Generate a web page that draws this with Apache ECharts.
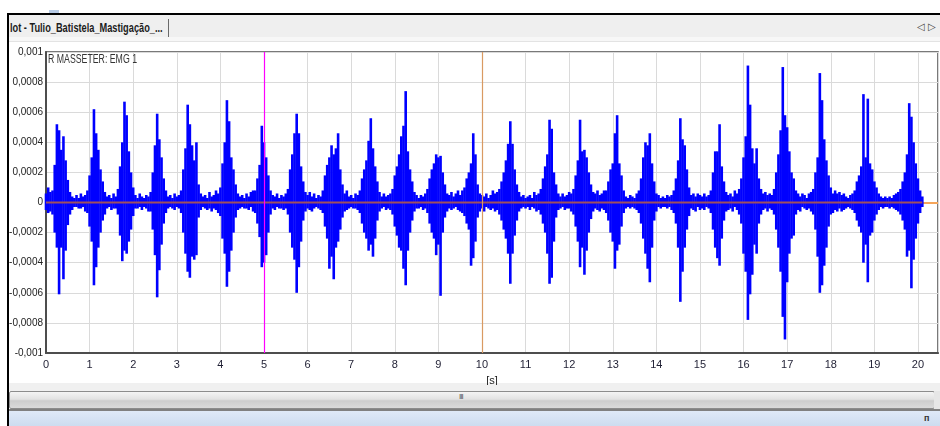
<!DOCTYPE html>
<html>
<head>
<meta charset="utf-8">
<script src="https://cdn.jsdelivr.net/npm/echarts@6/dist/echarts.min.js"></script>
<style>
html,body{margin:0;padding:0;width:940px;height:426px;overflow:hidden;background:#fff;font-family:'Liberation Sans','Noto Sans',sans-serif;}
.abs{position:absolute;}
</style>
</head>
<body>
<div class="abs" style="left:49px;top:10px;width:10px;height:4px;background:#b7cbe6"></div>
<div class="abs" style="left:7px;top:13px;width:933px;height:2px;background:#000"></div>
<div class="abs" style="left:7px;top:13px;width:2px;height:413px;background:#000"></div>
<div class="abs" style="left:9px;top:15px;width:931px;height:22px;background:#efefef"></div>
<div class="abs" id="tab" style="left:10px;top:21px;font-size:12px;font-weight:bold;color:#1c1c1c;white-space:nowrap;transform-origin:0 0">lot - Tulio_Batistela_Mastigação_...</div>
<div class="abs" style="left:168px;top:19px;width:1px;height:18px;background:#6a6a6a"></div>
<div class="abs" style="left:917px;top:21px;font-size:10px;color:#444;white-space:nowrap">◁ ▷</div>
<div class="abs" style="left:9px;top:37px;width:931px;height:4px;background:#f7f7f7"></div>
<div class="abs" style="left:9px;top:41px;width:931px;height:1px;background:#e3e3e3"></div>
<div class="abs" style="left:9px;top:383px;width:931px;height:8px;background:#f0f0f0"></div>
<div class="abs" style="left:9px;top:391px;width:924px;height:16px;border:1px solid #8c8c8c;border-radius:2px;background:linear-gradient(#f4f4f4,#e2e2e2 45%,#cdcdcd 55%,#dadada)"></div>
<div class="abs" style="left:934px;top:391px;width:6px;height:18px;background:#e6e6e6"></div>
<div class="abs" style="left:459px;top:392px;font-size:8px;color:#555;letter-spacing:-1px">III</div>
<div class="abs" style="left:9px;top:409px;width:931px;height:2px;background:#808080"></div>
<div class="abs" style="left:9px;top:411px;width:931px;height:15px;background:linear-gradient(#dfe9f7,#cddcf0)"></div>
<div class="abs" style="left:924px;top:413px;font-size:9px;font-weight:bold;color:#333">п</div>
<div class="abs" id="chart" style="left:0px;top:38px;width:940px;height:347px"></div>
<script>
// ---- data (EMG envelope, units of 1e-4 V) ----
const channelName = 'R MASSETER: EMG 1';
const sampleStep = 0.05;      // seconds between envelope samples
const unit = 1e-4;            // volts per stored unit
const upperEnv = [
0.6,1.0,0.7,0.8,2.5,5.2,4.8,3.5,4.4,2.8,
1.5,0.7,0.4,0.3,0.5,0.3,0.6,0.4,0.5,0.8,
1.8,3.0,6.2,4.6,3.5,2.2,1.4,0.7,0.4,0.5,
0.3,0.6,0.4,0.9,2.4,4.0,6.7,5.8,3.4,2.0,
1.0,0.5,0.3,0.6,0.4,0.3,0.5,0.4,0.7,2.0,
3.8,5.9,4.2,3.0,1.6,0.8,0.4,0.5,0.3,0.6,
0.4,0.5,0.8,2.2,3.6,6.5,5.2,3.8,2.8,4.0,
1.2,0.6,0.4,0.5,0.3,0.7,0.4,0.5,0.8,0.6,
1.0,2.6,4.0,6.8,5.4,3.0,2.2,1.2,0.6,0.4,
0.5,0.3,0.6,0.4,0.7,0.8,0.8,1.6,2.5,5.1,
4.0,3.0,1.8,0.8,0.5,0.4,0.6,0.3,0.5,0.4,
0.6,0.9,2.2,3.2,4.6,5.9,4.6,2.4,1.4,0.7,
0.5,0.7,0.4,0.6,0.3,0.5,0.4,0.8,1.8,2.5,
3.0,3.8,3.2,3.6,4.6,2.2,1.2,0.6,0.8,0.4,
0.5,0.3,0.6,0.5,0.8,1.6,2.2,2.8,4.1,5.6,
3.6,2.4,1.4,0.7,0.4,0.6,0.4,0.5,0.6,0.9,
1.8,2.4,3.2,4.4,5.1,7.4,3.4,2.2,1.4,0.7,
0.5,0.3,0.5,0.4,0.6,0.9,1.6,2.2,2.6,3.2,
3.0,3.1,2.0,1.2,0.6,0.5,0.7,0.4,0.6,0.8,
0.5,0.8,1.0,1.6,2.0,2.6,4.6,3.2,1.2,0.6,
0.5,0.4,0.6,0.3,0.5,0.8,0.6,0.7,0.9,1.4,
2.0,2.8,3.9,5.4,3.9,2.2,1.2,0.7,0.4,0.5,
0.3,0.4,0.5,0.3,0.7,0.5,0.6,0.9,1.6,2.4,
3.2,5.5,4.9,2.0,1.2,0.6,0.4,0.6,0.4,0.5,
0.7,0.6,0.9,1.8,2.8,5.5,3.4,3.5,3.0,2.0,
1.2,0.7,0.6,0.8,0.5,0.6,0.8,0.8,1.4,2.2,
2.6,4.6,5.8,2.6,1.8,0.8,0.4,0.3,0.5,0.4,
0.3,0.6,0.8,1.6,3.0,4.0,3.8,4.6,2.6,1.4,
0.6,0.5,0.3,0.4,0.3,0.5,0.4,0.5,0.8,1.6,
2.8,5.6,4.2,3.8,2.2,1.0,0.5,0.6,0.4,0.6,
0.5,0.4,0.6,0.4,0.5,0.8,2.0,3.4,3.4,5.2,
2.4,1.4,0.7,0.5,0.6,0.4,0.8,0.6,0.9,1.6,
3.0,4.4,9.1,6.5,3.6,2.6,3.6,1.6,0.9,0.6,
0.7,0.5,0.6,0.5,0.9,2.0,3.2,4.8,9.0,5.8,
5.0,3.4,2.0,1.6,0.8,0.6,0.4,0.6,0.5,0.3,
0.6,0.7,0.9,2.0,3.0,8.6,6.8,4.2,2.8,1.8,
1.0,0.6,0.8,0.6,0.7,0.5,0.6,0.4,0.3,0.5,
0.6,0.8,1.4,1.8,2.4,7.2,3.0,6.9,2.6,2.2,
1.4,1.0,0.6,0.4,0.3,0.4,0.3,0.4,0.3,0.5,
0.6,0.7,0.9,1.4,2.0,3.2,6.6,5.7,4.0,2.6,
1.6,0.8,0.4
];
const lowerEnv = [
-0.5,-0.7,-0.6,-0.8,-2.0,-3.0,-6.1,-3.0,-5.1,-3.2,
-1.5,-0.8,-0.5,-0.3,-0.3,-0.4,-0.4,-0.3,-0.6,-0.7,
-1.6,-2.6,-5.5,-4.3,-3.0,-2.0,-1.2,-0.8,-0.4,-0.3,
-0.5,-0.4,-0.4,-0.8,-2.2,-3.9,-3.2,-3.4,-2.6,-1.8,
-0.9,-0.4,-0.4,-0.3,-0.5,-0.3,-0.4,-0.6,-0.6,-1.8,
-3.5,-6.3,-4.5,-2.8,-1.4,-0.7,-0.4,-0.3,-0.4,-0.5,
-0.3,-0.4,-0.7,-2.0,-3.4,-4.6,-5.0,-3.6,-3.8,-3.5,
-1.0,-0.5,-0.3,-0.4,-0.5,-0.4,-0.6,-0.4,-0.5,-0.7,
-0.9,-2.4,-3.4,-5.6,-4.6,-3.2,-2.0,-1.0,-0.5,-0.4,
-0.3,-0.4,-0.4,-0.5,-0.3,-0.6,-0.7,-1.4,-2.3,-4.3,
-4.0,-3.5,-2.0,-0.8,-0.4,-0.5,-0.3,-0.4,-0.4,-0.5,
-0.4,-0.8,-2.0,-3.0,-3.8,-6.0,-4.3,-2.6,-1.2,-0.6,
-0.4,-0.5,-0.6,-0.4,-0.3,-0.4,-0.5,-0.7,-1.6,-2.4,
-4.4,-3.6,-5.1,-3.0,-2.6,-1.8,-1.0,-0.6,-0.5,-0.4,
-0.3,-0.4,-0.4,-0.5,-0.7,-1.4,-2.0,-2.4,-3.2,-2.8,
-3.6,-2.4,-1.2,-0.6,-0.4,-0.3,-0.5,-0.4,-0.5,-0.8,
-1.6,-2.2,-3.0,-3.2,-4.4,-5.5,-3.2,-2.0,-1.2,-0.6,
-0.4,-0.4,-0.3,-0.5,-0.4,-0.7,-1.4,-2.0,-2.4,-3.5,
-2.8,-6.2,-2.0,-1.0,-0.6,-0.4,-0.5,-0.4,-0.3,-0.5,
-0.6,-0.7,-0.9,-1.4,-1.8,-4.2,-3.7,-2.6,-1.0,-0.6,
-0.4,-0.6,-0.3,-0.4,-0.5,-0.4,-0.6,-0.5,-0.8,-1.2,
-1.8,-2.4,-3.4,-5.4,-3.4,-2.2,-1.2,-0.6,-0.4,-0.3,
-0.4,-0.3,-0.5,-0.3,-0.4,-0.6,-0.5,-0.8,-1.4,-2.0,
-3.4,-5.4,-5.0,-2.6,-1.0,-0.5,-0.4,-0.3,-0.5,-0.4,
-0.4,-0.6,-0.8,-1.6,-2.6,-4.3,-3.0,-4.8,-3.2,-2.0,
-1.1,-0.6,-0.4,-0.5,-0.6,-0.4,-0.5,-0.7,-1.2,-2.0,
-2.6,-4.4,-3.2,-2.8,-1.6,-0.7,-0.4,-0.3,-0.4,-0.3,
-0.4,-0.5,-0.7,-1.4,-2.4,-3.4,-4.4,-5.3,-3.0,-1.2,
-0.6,-0.3,-0.4,-0.3,-0.3,-0.4,-0.3,-0.5,-0.7,-1.4,
-3.0,-6.6,-4.6,-3.0,-1.8,-0.9,-0.4,-0.5,-0.6,-0.3,
-0.5,-0.4,-0.5,-0.3,-0.4,-0.7,-1.8,-3.0,-3.7,-4.2,
-2.4,-1.2,-0.6,-0.5,-0.4,-0.6,-0.3,-0.5,-0.8,-1.4,
-3.4,-4.6,-7.8,-6.1,-4.8,-2.8,-3.4,-1.4,-0.8,-0.5,
-0.4,-0.6,-0.4,-0.5,-0.8,-1.8,-3.0,-4.6,-7.6,-9.1,
-5.3,-3.4,-2.4,-2.2,-0.8,-0.5,-0.6,-0.3,-0.4,-0.5,
-0.4,-0.6,-0.8,-1.8,-3.6,-6.0,-5.5,-4.2,-3.0,-1.6,
-0.8,-0.7,-0.5,-0.6,-0.4,-0.6,-0.5,-0.4,-0.3,-0.4,
-0.5,-0.7,-1.2,-1.6,-2.0,-4.0,-2.8,-5.3,-2.2,-2.0,
-1.2,-0.8,-0.5,-0.3,-0.4,-0.3,-0.3,-0.4,-0.3,-0.4,
-0.5,-0.6,-0.8,-1.2,-1.8,-3.6,-3.2,-5.7,-3.8,-2.4,
-1.4,-0.7,-0.3
];
const xRange = [0, 20.46];      // seconds shown
const xTickStep = 1;
const yRange = [-0.001, 0.001]; // volts
const yTickStep = 0.0002;
const cursorTimes = [5, 10];
const xAxisName = '[s]';

// ---- chrome text fit ----
(function(){
  const tab = document.getElementById('tab');
  const w = tab.offsetWidth;
  if (w > 0) tab.style.transform = 'scaleX(' + (153 / w) + ')';
})();

const narrowFont = "'Liberation Sans Narrow','Liberation Sans',Arial,sans-serif";
const mc = document.createElement('canvas').getContext('2d');
mc.font = '12px ' + narrowFont;
const titleScale = Math.min(1.2, 89 / mc.measureText(channelName).width);

const samples = upperEnv.map((u, i) => [+(i * sampleStep).toFixed(2), lowerEnv[i] * unit, u * unit]);
const tStart = samples[0][0], tEnd = samples[samples.length - 1][0];

const chart = echarts.init(document.getElementById('chart'), null, {renderer: 'canvas'});
chart.setOption({
  animation: false,
  backgroundColor: 'transparent',
  grid: {left: 46, right: 2, top: 14, bottom: 32, containLabel: false, outerBoundsMode: 'none',
         show: true, borderColor: '#4d4d4d', borderWidth: 1.5, backgroundColor: '#fff'},
  xAxis: {
    type: 'value', min: xRange[0], max: xRange[1], interval: xTickStep,
    name: xAxisName, nameLocation: 'middle', nameGap: 22,
    nameTextStyle: {color: '#222', fontSize: 11, fontFamily: narrowFont},
    axisLine: {show: true, onZero: false, lineStyle: {color: '#4d4d4d', width: 2}},
    axisTick: {show: false},
    axisLabel: {color: '#1f1f33', fontSize: 11, fontFamily: narrowFont, margin: 6, showMaxLabel: false,
                formatter: v => String(v)},
    splitLine: {show: true, lineStyle: {color: '#dadada', width: 1}}
  },
  yAxis: {
    type: 'value', min: yRange[0], max: yRange[1], interval: yTickStep,
    axisLine: {show: true, onZero: false, lineStyle: {color: '#4d4d4d', width: 2}},
    axisTick: {show: false},
    axisLabel: {color: '#222', fontSize: 10, fontFamily: narrowFont, margin: 3,
                formatter: v => Math.abs(v) < 1e-12 ? '0' : String(+v.toFixed(4)).replace('.', ',')},
    splitLine: {show: true, lineStyle: {color: '#dadada', width: 1}}
  },
  graphic: [{
    type: 'text', x: 48, y: 16, scaleX: titleScale, z: 100,
    style: {text: channelName, fill: '#333', fontSize: 12, fontFamily: narrowFont, textVerticalAlign: 'top'}
  }],
  series: [
    {
      name: channelName, type: 'custom', z: 2,
      data: samples,
      encode: {x: 0, y: [1, 2]},
      renderItem: function (params, api) {
        const a = api.coord([api.value(0), api.value(1)]);
        const b = api.coord([api.value(0), api.value(2)]);
        return {type: 'line', shape: {x1: a[0], y1: a[1], x2: b[0], y2: b[1]},
                style: {stroke: '#0000ff', lineWidth: 2.6}};
      }
    },
    {
      name: 'zero', type: 'line', z: 3, symbol: 'none',
      data: [[tStart, 0], [tEnd, 0]],
      lineStyle: {color: '#a0505e', width: 2},
      markLine: {z: 1, silent: true, symbol: 'none', label: {show: false},
                 lineStyle: {color: '#f5a55a', width: 2, type: 'solid'},
                 data: [{yAxis: 0}]}
    },
    {
      name: 'cursors', type: 'line', z: 4, symbol: 'none', data: [],
      markLine: {z: 6, silent: true, symbol: 'none', label: {show: false},
                 data: [
                   {xAxis: cursorTimes[0], lineStyle: {color: '#ff00ff', width: 1.2, type: 'solid'}},
                   {xAxis: cursorTimes[1], lineStyle: {color: '#d99a62', width: 1.2, type: 'solid'}}
                 ]}
    }
  ]
});
</script>
</body>
</html>
